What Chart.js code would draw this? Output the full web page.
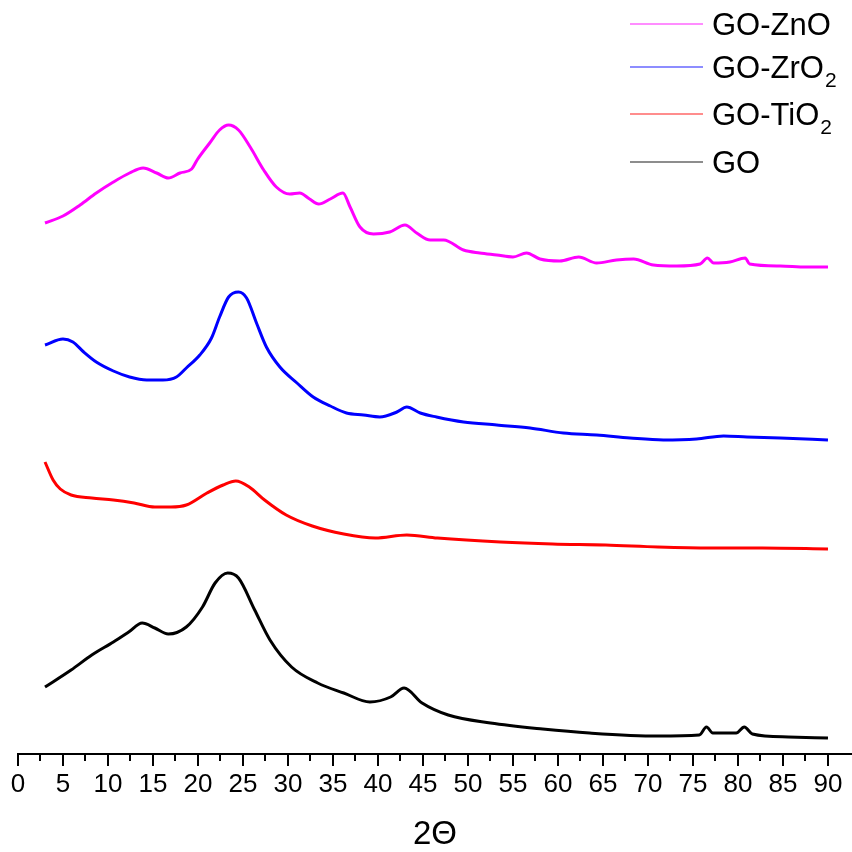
<!DOCTYPE html>
<html>
<head>
<meta charset="utf-8">
<script src="https://cdn.jsdelivr.net/npm/chart.js@4/dist/chart.umd.min.js"></script>
<style>
  body { margin: 0; background: #fff; }
  canvas { display: block; }
</style>
</head>
<body>
<canvas id="xrd" width="852" height="852"></canvas>
<script>
// XRD patterns, intensities in arbitrary units (curves are stacked/offset)
var goX = [3, 5.9, 8.2, 10.6, 12.3, 13.8, 15.2, 16.7, 18.7, 20.5, 21.9, 23.3, 24.5, 26.3, 28, 30.4, 33.3, 36.2, 39.1, 41.4, 42.9, 44.9, 47.8, 52.5, 58.3, 63.5, 71.1, 75.7, 76.5, 77.2, 79.8, 80.7, 81.6, 85.6, 90];
var goY = [67, 84, 99, 112, 122, 131, 126, 120, 127, 147, 171, 181, 176, 144, 114, 87, 71, 61, 52, 57, 66, 51, 39, 31, 25, 21, 18, 19, 27, 21, 21, 27, 20, 17, 16];

var tiX = [3, 3.9, 4.7, 5.9, 8.2, 10.6, 12.9, 15.2, 17, 18.7, 21, 22.8, 24.2, 25.7, 27.4, 29.8, 32.7, 36.2, 39.7, 43.2, 46.6, 53.6, 59.4, 65.3, 71.1, 76.9, 82.7, 90];
var tiY = [292, 274, 265, 259, 256, 254, 251, 247, 247, 249, 261, 269, 273, 267, 254, 239, 228, 220, 216, 219, 216, 212, 210, 209, 207, 206, 206, 205];

var zrX = [3, 5, 6.1, 7.3, 8.7, 10.6, 12.4, 14.3, 16.1, 17.6, 18.7, 20.2, 21.5, 22.4, 23.4, 24.5, 25.4, 26.5, 27.6, 29.1, 31, 32.8, 34.7, 36.5, 38.4, 40.2, 42.1, 43.2, 44.7, 46.5, 49.5, 53.2, 56.9, 60.6, 64.3, 68, 71.7, 75.4, 78.4, 81, 84.7, 90];
var zrY = [409, 415, 412, 402, 392, 383, 377, 374, 374, 377, 386, 399, 416, 437, 457, 462, 456, 431, 407, 387, 371, 357, 348, 341, 339, 337, 342, 347, 341, 337, 332, 329, 326, 321, 319, 316, 314, 315, 318, 317, 316, 314];

var znX = [3, 5, 6.9, 8.7, 10.6, 12.4, 13.9, 15.4, 16.7, 18, 19.3, 19.9, 21.3, 22.4, 23.4, 24.5, 25.8, 27.3, 28.7, 30.2, 31.3, 32.4, 33.4, 34.7, 36.1, 36.9, 38, 39.5, 41.3, 43, 44.3, 45.8, 47.3, 49.5, 51.3, 53.2, 55, 56.5, 58, 60.2, 62.3, 64.3, 66.5, 68.4, 70.6, 73.2, 75.8, 76.6, 77.3, 79.1, 80.8, 81.3, 84.7, 87.6, 90];
var znY = [531, 538, 549, 561, 572, 581, 586, 581, 576, 581, 585, 594, 611, 624, 629, 624, 607, 584, 567, 560, 561, 555, 550, 555, 561, 547, 527, 520, 522, 529, 521, 514, 514, 504, 501, 499, 497, 501, 495, 493, 497, 491, 494, 495, 489, 488, 490, 496, 491, 492, 496, 490, 488, 487, 487];

var seriesNames = ["GO-ZnO", "GO-ZrO\u2082", "GO-TiO\u2082", "GO"];
var seriesColors = ["#ff00ff", "#0000ff", "#ff0000", "#000000"];
// legend text split into main part + subscript
var legendMain = ["GO-ZnO", "GO-ZrO", "GO-TiO", "GO"];
var legendSub = ["", "2", "2", ""];
var xTicks = [0, 5, 10, 15, 20, 25, 30, 35, 40, 45, 50, 55, 60, 65, 70, 75, 80, 85, 90];

function pts(xs, ys) {
  return xs.map(function (x, i) { return { x: x, y: ys[i] }; });
}

var allX = [znX, zrX, tiX, goX];
var allY = [znY, zrY, tiY, goY];

var datasets = seriesNames.map(function (name, i) {
  return {
    label: name,
    data: pts(allX[i], allY[i]),
    borderColor: seriesColors[i],
    borderWidth: 3,
    pointRadius: 0,
    fill: false,
    cubicInterpolationMode: "monotone"
  };
});

// minor/major tick marks below the axis
var tickMarks = {
  id: "tickMarks",
  afterDraw: function (chart) {
    var ctx = chart.ctx;
    var xs = chart.scales.x;
    var y0 = chart.chartArea.bottom;
    ctx.save();
    ctx.strokeStyle = "#000";
    ctx.lineWidth = 2;
    for (var v = 0; v <= 90; v += 2.5) {
      var px = Math.round(xs.getPixelForValue(v));
      var len = v % 5 === 0 ? 12 : 7;
      ctx.beginPath();
      ctx.moveTo(px, y0);
      ctx.lineTo(px, y0 + len);
      ctx.stroke();
    }
    ctx.restore();
  }
};

// legend in the top right, with subscripts
var sideLegend = {
  id: "sideLegend",
  afterDraw: function (chart) {
    var ctx = chart.ctx;
    var rowsY = [24, 67, 114, 162];
    ctx.save();
    ctx.textBaseline = "middle";
    ctx.textAlign = "left";
    for (var i = 0; i < legendMain.length; i++) {
      var y = rowsY[i];
      ctx.strokeStyle = seriesColors[i];
      ctx.globalAlpha = 0.6;
      ctx.lineWidth = 1.5;
      ctx.beginPath();
      ctx.moveTo(630, y);
      ctx.lineTo(703, y);
      ctx.stroke();
      ctx.globalAlpha = 1;
      ctx.fillStyle = "#000";
      ctx.font = "31px 'Liberation Sans', Arial, sans-serif";
      ctx.fillText(legendMain[i], 712, y + 2);
      if (legendSub[i]) {
        var w = ctx.measureText(legendMain[i]).width;
        ctx.font = "21px 'Liberation Sans', Arial, sans-serif";
        ctx.fillText(legendSub[i], 712 + w + 1, y + 14);
      }
    }
    ctx.restore();
  }
};

var ctx = document.getElementById("xrd").getContext("2d");
var xrdChart = new Chart(ctx, {
  type: "line",
  data: { datasets: datasets },
  plugins: [tickMarks, sideLegend],
  options: {
    responsive: false,
    animation: false,
    layout: { padding: { left: 18, right: 0, top: 0, bottom: 0 } },
    plugins: {
      legend: { display: false },
      tooltip: { enabled: false }
    },
    scales: {
      x: {
        type: "linear",
        min: 0,
        max: 92.67,
        afterBuildTicks: function (axis) {
          axis.ticks = xTicks.map(function (v) { return { value: v }; });
        },
        afterFit: function (axis) {
          axis.height = 98;
        },
        grid: { display: false, drawTicks: false },
        border: { display: true, color: "#000", width: 2 },
        ticks: {
          autoSkip: false,
          maxRotation: 0,
          padding: 4,
          color: "#000",
          font: { family: "'Liberation Sans', Arial, sans-serif", size: 26, lineHeight: 2.1 }
        },
        title: {
          display: true,
          text: "2\u0398",
          color: "#000",
          padding: { top: 0, bottom: 0 },
          font: { family: "'Liberation Sans', Arial, sans-serif", size: 33, lineHeight: 1.05 }
        }
      },
      y: {
        display: false,
        min: 0,
        max: 754
      }
    }
  }
});
</script>
</body>
</html>
